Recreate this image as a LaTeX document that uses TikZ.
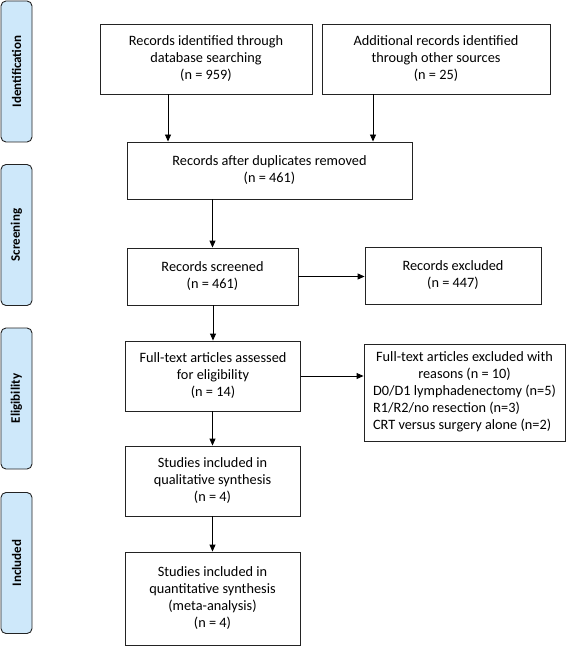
\documentclass[tikz,border=0pt]{standalone}
\usepackage{fontspec}
\setmainfont{Carlito}
\usepackage{tikz}
\usetikzlibrary{arrows.meta}

\definecolor{phaseblue}{RGB}{206,232,250}
\definecolor{boxline}{RGB}{35,35,35}

\tikzset{
  flowbox/.style={draw=boxline, line width=0.9pt, align=center, inner sep=2pt,
    font=\fontsize{14.3}{17}\selectfont},
  phase/.style={draw=boxline, line width=0.9pt, fill=phaseblue, rounded corners=5pt,
    rotate=90, minimum width=141pt, minimum height=31pt, inner sep=0pt,
    font=\fontsize{13}{15}\selectfont\bfseries},
  flow/.style={line width=0.9pt, -{Triangle[length=7pt, width=6pt]}}
}

\begin{document}
\begin{tikzpicture}[x=1pt, y=-1pt]
  \useasboundingbox (0,0) rectangle (567,647);

  % phases
  \node[phase] (P1) at (16.5,71.5) {Identification};
  \node[phase] (P2) at (16.5,235) {Screening};
  \node[phase] (P3) at (16.5,398.5) {Eligibility};
  \node[phase] (P4) at (16.5,563) {Included};

  % boxes
  \node[flowbox, minimum width=212pt, minimum height=70pt] (db) at (206,59)
    {Records identified through\\database searching\\(n = 959)};
  \node[flowbox, minimum width=228pt, minimum height=70pt] (other) at (436,59)
    {Additional records identified\\through other sources\\(n = 25)};

  \node[flowbox, minimum width=285pt, minimum height=57pt] (dup) at (269.5,170.5)
    {Records after duplicates removed\\(n = 461)};

  \node[flowbox, minimum width=171pt, minimum height=57pt] (scr) at (212.5,276.5)
    {Records screened\\(n = 461)};
  \node[flowbox, minimum width=176pt, minimum height=57pt] (excl) at (453,275.5)
    {Records excluded\\(n = 447)};

  \node[flowbox, minimum width=175pt, minimum height=70pt] (ft) at (213,376)
    {Full-text articles assessed\\for eligibility\\(n = 14)};
  \node[flowbox, minimum width=201pt, minimum height=97pt] (ftex) at (464.5,393)
    {Full-text articles excluded with\\reasons (n = 10)\\
     \begin{tabular}[t]{@{}l@{}}
       D0/D1 lymphadenectomy (n=5)\\
       R1/R2/no resection (n=3)\\
       CRT versus surgery alone (n=2)
     \end{tabular}};

  \node[flowbox, minimum width=175pt, minimum height=70pt] (qual) at (212.5,481)
    {Studies included in\\qualitative synthesis\\(n = 4)};
  \node[flowbox, minimum width=175pt, minimum height=93pt] (quant) at (212.5,598.5)
    {Studies included in\\quantitative synthesis\\(meta-analysis)\\(n = 4)};

  % arrows
  \draw[flow] ([xshift=-38pt]db.south) -- ([xshift=-38pt]db.south |- dup.north);
  \draw[flow] ([xshift=-63pt]other.south) -- ([xshift=-63pt]other.south |- dup.north);
  \draw[flow] (dup.south -| scr.north) -- (scr.north);
  \draw[flow] (scr.east) -- (scr.east -| excl.west);
  \draw[flow] (scr.south -| ft.north) -- (ft.north);
  \draw[flow] (ft.east) -- (ft.east -| ftex.west);
  \draw[flow] (ft.south -| qual.north) -- (qual.north);
  \draw[flow] (qual) -- (quant);
\end{tikzpicture}
\end{document}
